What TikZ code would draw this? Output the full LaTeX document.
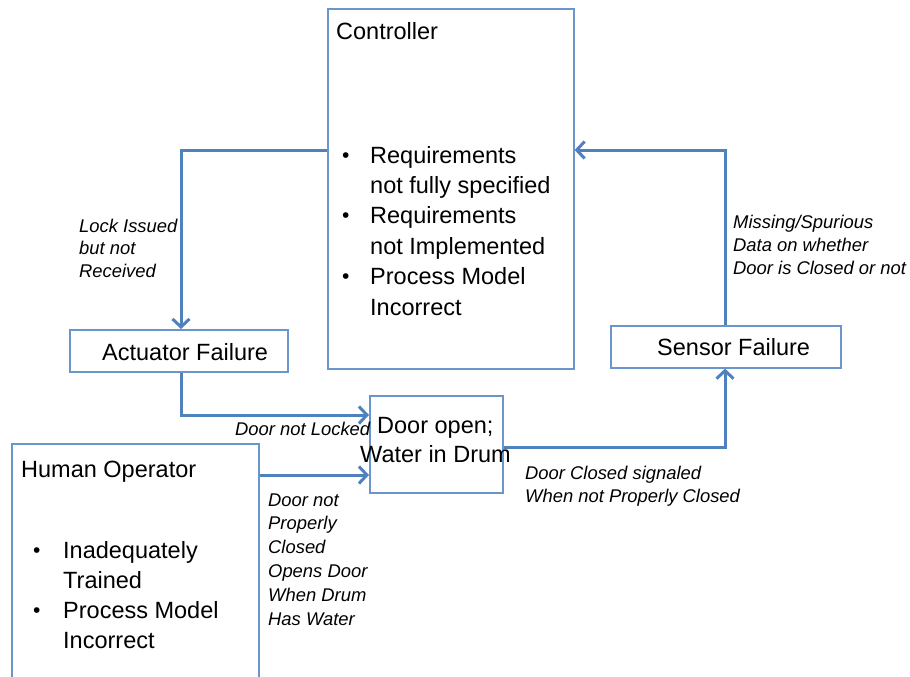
\documentclass[tikz,border=0pt]{standalone}
\usepackage{fontspec}
\setmainfont{Liberation Sans}
\usetikzlibrary{arrows.meta}
\definecolor{lineblue}{HTML}{4F81BD}
\definecolor{boxblue}{HTML}{6A96CB}
\begin{document}
\begin{tikzpicture}[x=1pt,y=-1pt,
  box/.style={draw=boxblue,line width=1.6pt,rectangle,inner sep=0pt,anchor=north west},
  conn/.style={draw=lineblue,line width=3pt,-{Straight Barb[length=8pt,width=17pt]}},
  big/.style={inner sep=0pt,anchor=base west,font=\fontsize{23.5}{28}\selectfont},
  bul/.style={inner sep=0pt,anchor=base west,font=\fontsize{21}{24}\selectfont},
  lab/.style={inner sep=0pt,anchor=base west,font=\fontsize{18.4}{22}\selectfont\itshape}]
\useasboundingbox (0,0) rectangle (910,677);
\clip (0,0) rectangle (910,677);
% boxes
\node[box,minimum width=246pt,minimum height=360pt] (ctrl) at (327,8) {};
\node[box,minimum width=218pt,minimum height=42pt] (act) at (69,329) {};
\node[box,minimum width=230pt,minimum height=42pt] (sens) at (610,325) {};
\node[box,minimum width=133pt,minimum height=97pt] (door) at (369,395) {};
\node[box,minimum width=247pt,minimum height=260pt] (human) at (11,443) {};
% controller text
\node[big] (ctitle) at (336,40) {Controller};
\node[bul] (cb1) at (342,162) {•};
\node[bul] (cb2) at (342,222.8) {•};
\node[bul] (cb3) at (342,283.6) {•};
\node[big] (c1) at (370,163) {Requirements};
\node[big] (c2) at (370,193.4) {not fully specified};
\node[big] (c3) at (370,223.8) {Requirements};
\node[big] (c4) at (370,254.2) {not Implemented};
\node[big] (c5) at (370,284.6) {Process Model};
\node[big] (c6) at (370,315) {Incorrect};
% other box texts
\node[big] (acttext) at (102,360) {Actuator Failure};
\node[big] (senstext) at (657,355) {Sensor Failure};
\node[big] (door1) at (377,433) {Door open;};
\node[big] (door2) at (360,462) {Water in Drum};
\node[big] (htitle) at (21,477) {Human Operator};
\node[bul] (hb1) at (33,557) {•};
\node[bul] (hb2) at (33,617.5) {•};
\node[big] (h1) at (63,558) {Inadequately};
\node[big] (h2) at (63,588) {Trained};
\node[big] (h3) at (63,618.5) {Process Model};
\node[big] (h4) at (63,648) {Incorrect};
% labels
\node[lab] (l1) at (79,232) {Lock Issued};
\node[lab] (l2) at (79,254.5) {but not};
\node[lab] (l3) at (79,277) {Received};
\node[lab] (l4) at (235,435) {Door not Locked};
\node[lab] (l5) at (268,506) {Door not};
\node[lab] (l6) at (268,529.8) {Properly};
\node[lab] (l7) at (268,553.6) {Closed};
\node[lab] (l8) at (268,577.4) {Opens Door};
\node[lab] (l9) at (268,601.2) {When Drum};
\node[lab] (l10) at (268,625) {Has Water};
\node[lab] (l11) at (525,479) {Door Closed signaled};
\node[lab] (l12) at (525,502) {When not Properly Closed};
\node[lab] (l13) at (733,228) {Missing/Spurious};
\node[lab] (l14) at (733,251) {Data on whether};
\node[lab] (l15) at (733,274) {Door is Closed or not};
% connectors
\draw[conn] (ctrl.west |- 0,150) -| (act.north -| 181,0);
\draw[conn] (act.south -| 181,0) |- (door.west |- 0,415);
\draw[conn] (human.east |- 0,475) -- (door.west |- 0,475);
\draw[conn] (door.east |- 0,447) -| (sens.south -| 725,0);
\draw[conn] (sens.north -| 725,0) |- (ctrl.east |- 0,150);
\end{tikzpicture}
\end{document}
